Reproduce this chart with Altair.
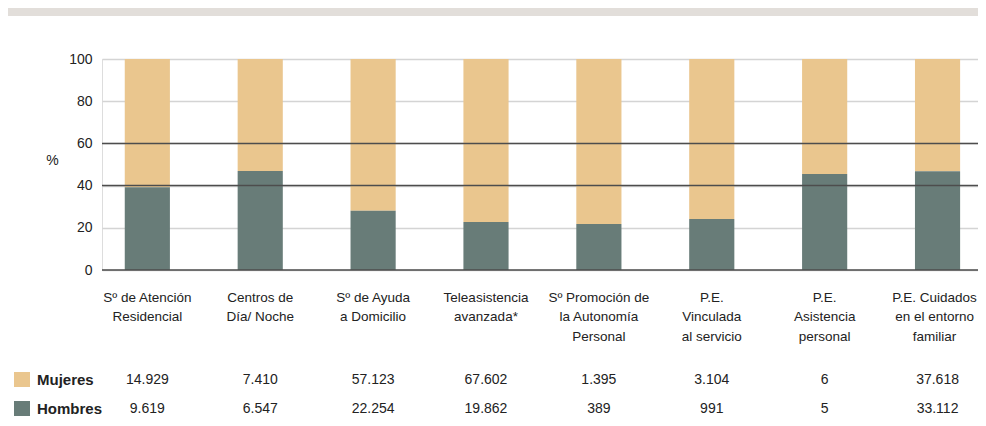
import altair as alt
import pandas as pd

# ---- data ----
categorias = [
    "Sº de Atención|Residencial",
    "Centros de|Día/ Noche",
    "Sº de Ayuda|a Domicilio",
    "Teleasistencia|avanzada*",
    "Sº Promoción de|la Autonomía|Personal",
    "P.E.|Vinculada|al servicio",
    "P.E.|Asistencia|personal",
    "P.E. Cuidados|en el entorno|familiar",
]
mujeres = [14929, 7410, 57123, 67602, 1395, 3104, 6, 37618]
hombres = [9619, 6547, 22254, 19862, 389, 991, 5, 33112]
series = ["Mujeres", "Hombres"]
colores = ["#EAC68E", "#687C78"]
y_ticks = [0, 20, 40, 60, 80, 100]
lineas_oscuras = [0, 40, 60]

FONT = "Liberation Sans"
TXT = "#222222"
W = 876


def fmt(n):
    return f"{n:,}".replace(",", ".")


rows = []
for c, m, h in zip(categorias, mujeres, hombres):
    rows.append({"cat": c, "sexo": "Mujeres", "valor": m, "texto": fmt(m), "orden": 1})
    rows.append({"cat": c, "sexo": "Hombres", "valor": h, "texto": fmt(h), "orden": 0})
df = pd.DataFrame(rows)

ultimo = categorias[-1]
x_enc = alt.X(
    "cat:N",
    sort=categorias,
    scale=alt.Scale(paddingInner=0.6, paddingOuter=0.18, align=0.56),
    axis=alt.Axis(
        title=None, labelAngle=0, labelExpr="split(datum.label, '|')",
        ticks=False, domain=False, labelPadding=20, labelFontSize=13.5,
        labelLineHeight=19.5, labelColor=TXT, labelFont=FONT,
        labelBaseline="top", labelLimit=200,
        labelOffset={"condition": {"test": f"datum.value == '{ultimo}'", "value": -3}, "value": 0},
    ),
)

base = alt.Chart(df).transform_joinaggregate(
    total="sum(valor)", groupby=["cat"]
).transform_calculate(pct="100*datum.valor/datum.total")

bars = base.mark_bar().encode(
    x=x_enc,
    y=alt.Y(
        "pct:Q", stack="zero",
        scale=alt.Scale(domain=[0, 100], nice=False),
        axis=alt.Axis(
            values=y_ticks, title="%", titleAngle=0, titleX=-50, titleY=101,
            titleAlign="center", titleBaseline="middle", titleFontSize=14,
            titleFontWeight="normal", titleColor=TXT, titleFont=FONT,
            labelFontSize=14, labelPadding=10, labelColor=TXT, labelFont=FONT,
            ticks=False, domain=False, gridColor="#d4d4d4", gridWidth=1.5,
        ),
    ),
    color=alt.Color("sexo:N", scale=alt.Scale(domain=series, range=colores), legend=None),
    order=alt.Order("orden:Q"),
)

rules = alt.Chart(pd.DataFrame({"pct": lineas_oscuras})).mark_rule(
    color="#4d4d4d", strokeWidth=1.5
).encode(y="pct:Q")

row_y = {"Mujeres": 321, "Hombres": 350}
layers = [bars, rules]
for s, col in zip(series, colores):
    yy = row_y[s]
    layers.append(
        alt.Chart(df).transform_filter(alt.datum.sexo == s).mark_text(
            fontSize=14, font=FONT, color=TXT, baseline="middle", align="center"
        ).encode(x=x_enc, y=alt.value(yy), text="texto:N")
    )
    one = alt.Chart(pd.DataFrame({"s": [s]}))
    layers.append(
        one.mark_rect(color=col).encode(
            x=alt.value(-88), x2=alt.value(-72), y=alt.value(yy - 8), y2=alt.value(yy + 7)
        )
    )
    layers.append(
        one.mark_text(
            fontSize=15, font=FONT, fontWeight="bold", color=TXT,
            baseline="middle", align="left"
        ).encode(x=alt.value(-65), y=alt.value(yy), text="s:N")
    )

band = alt.Chart(pd.DataFrame({"a": [0]})).mark_rect(color="#E2DEDA").encode(
    x=alt.value(-94), x2=alt.value(W), y=alt.value(-51), y2=alt.value(-43)
)
layers.append(band)

chart = alt.layer(*layers).properties(
    width=W, height=211,
    padding={"left": 94, "top": 51, "right": 0, "bottom": 148},
    autosize=alt.AutoSizeParams(type="none"),
).configure_view(stroke=None).configure(font=FONT)

chart.save("out.html", embed_options={"renderer": "svg", "actions": False})
